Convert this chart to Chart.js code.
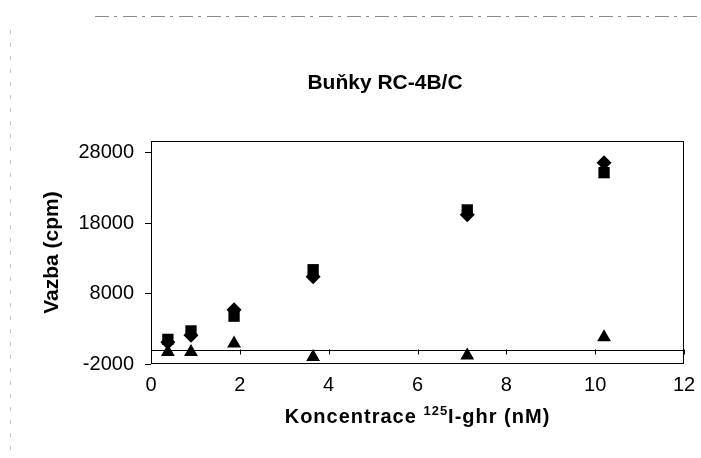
<!DOCTYPE html>
<html lang="cs">
<head>
    <meta charset="UTF-8">
    <title>Buňky RC-4B/C</title>
    <script src="https://cdn.jsdelivr.net/npm/chart.js"></script>
    <style>
        html, body { margin: 0; padding: 0; background: #fff; }
    </style>
</head>
<body>
    <canvas id="myChart" width="701" height="458"></canvas>

    <script>
        // koncentrace 125I-ghr (nM)
        const koncentrace = [0.38, 0.9, 1.87, 3.65, 7.12, 10.2];
        // vazba (cpm)
        const vazbaKosoctverec = [1100, 2100, 5700, 10400, 19200, 26600];
        const vazbaCtverec = [1500, 2700, 4800, 11400, 19900, 25200];
        const vazbaTrojuhelnik = [-300, -300, 900, -1000, -800, 1800];
        // popisky os
        const yTicks = [-2000, 8000, 18000, 28000];
        const xTicks = [0, 2, 4, 6, 8, 10, 12];

        const FONT = '"Liberation Sans", Arial, sans-serif';

        function body(ys) {
            return koncentrace.map((x, i) => ({ x: x, y: ys[i] }));
        }

        // ramecek, nulova cara, nadpis a popis osy x (s horním indexem)
        const kresba = {
            id: 'kresba',
            afterDraw(chart) {
                const ctx = chart.ctx;
                const a = chart.chartArea;
                const sx = chart.scales.x, sy = chart.scales.y;
                ctx.save();

                // okraje skenu
                ctx.strokeStyle = '#8a8a8a';
                ctx.lineWidth = 1;
                ctx.setLineDash([14, 5, 3, 6]);
                ctx.beginPath();
                ctx.moveTo(95, 16.5); ctx.lineTo(701, 16.5);
                ctx.stroke();
                ctx.strokeStyle = '#c8c8c8';
                ctx.setLineDash([4, 9]);
                ctx.beginPath();
                ctx.moveTo(10.5, 30); ctx.lineTo(10.5, 458);
                ctx.stroke();
                ctx.setLineDash([]);

                // ramecek grafu
                ctx.strokeStyle = '#000';
                ctx.lineWidth = 1;
                ctx.strokeRect(a.left + 0.5, a.top + 0.5, a.right - a.left - 1, a.bottom - a.top - 1);

                // osa x v nule
                const y0 = Math.round(sy.getPixelForValue(0)) + 0.5;
                ctx.beginPath();
                ctx.moveTo(a.left, y0); ctx.lineTo(a.right, y0);
                xTicks.forEach(v => {
                    const px = Math.round(sx.getPixelForValue(v)) + 0.5;
                    ctx.moveTo(px, y0 - 1); ctx.lineTo(px, y0 + 4);
                });
                ctx.stroke();

                ctx.fillStyle = '#000';
                // nadpis
                ctx.font = 'bold 21px ' + FONT;
                ctx.textAlign = 'center';
                ctx.textBaseline = 'alphabetic';
                ctx.fillText('Buňky RC-4B/C', 385, 89);

                // popis osy x
                const t1 = 'Koncentrace ', t2 = '125', t3 = 'I-ghr (nM)';
                ctx.textAlign = 'left';
                ctx.letterSpacing = '1px';
                ctx.font = 'bold 20px ' + FONT;
                const w1 = ctx.measureText(t1).width, w3 = ctx.measureText(t3).width;
                ctx.font = 'bold 13px ' + FONT;
                const w2 = ctx.measureText(t2).width;
                let x = (a.left + a.right) / 2 - (w1 + w2 + w3) / 2;
                ctx.font = 'bold 20px ' + FONT;
                ctx.fillText(t1, x, 423);
                x += w1;
                ctx.font = 'bold 13px ' + FONT;
                ctx.fillText(t2, x, 415);
                x += w2;
                ctx.font = 'bold 20px ' + FONT;
                ctx.fillText(t3, x, 423);

                ctx.restore();
            }
        };

        const ctx = document.getElementById('myChart').getContext('2d');
        const myChart = new Chart(ctx, {
            type: 'scatter',
            data: {
                datasets: [{
                    label: 'kosoctverec',
                    data: body(vazbaKosoctverec),
                    pointStyle: 'rectRot',
                    pointRadius: 7.5,
                    backgroundColor: '#000',
                    borderColor: '#000',
                    borderWidth: 0
                }, {
                    label: 'ctverec',
                    data: body(vazbaCtverec),
                    pointStyle: 'rect',
                    pointRadius: 8,
                    backgroundColor: '#000',
                    borderColor: '#000',
                    borderWidth: 0
                }, {
                    label: 'trojuhelnik',
                    data: body(vazbaTrojuhelnik),
                    pointStyle: 'triangle',
                    pointRadius: 8,
                    backgroundColor: '#000',
                    borderColor: '#000',
                    borderWidth: 0
                }]
            },
            options: {
                responsive: false,
                animation: false,
                events: [],
                layout: { padding: { top: 141, right: 17, left: 0, bottom: 0 } },
                plugins: {
                    legend: { display: false },
                    tooltip: { enabled: false }
                },
                scales: {
                    x: {
                        type: 'linear',
                        min: 0,
                        max: 12,
                        afterBuildTicks: s => { s.ticks = xTicks.map(v => ({ value: v })); },
                        afterFit: s => { s.height = 94; },
                        grid: { display: false },
                        border: { display: false },
                        ticks: {
                            color: '#000',
                            font: { family: FONT, size: 20 },
                            padding: 1,
                            maxRotation: 0,
                            callback: v => String(v)
                        }
                    },
                    y: {
                        type: 'linear',
                        min: -2000,
                        max: 29700,
                        afterBuildTicks: s => { s.ticks = yTicks.map(v => ({ value: v })); },
                        afterFit: s => { s.width = 151; },
                        grid: {
                            drawOnChartArea: false,
                            drawTicks: true,
                            tickLength: 6,
                            color: '#000'
                        },
                        border: { display: false },
                        ticks: {
                            color: '#000',
                            font: { family: FONT, size: 20 },
                            padding: 11,
                            callback: v => String(v)
                        },
                        title: {
                            display: true,
                            text: 'Vazba (cpm)',
                            color: '#000',
                            font: { family: FONT, size: 21, weight: 'bold' },
                            padding: { top: 40, bottom: 0 }
                        }
                    }
                }
            },
            plugins: [kresba]
        });
    </script>
</body>
</html>
